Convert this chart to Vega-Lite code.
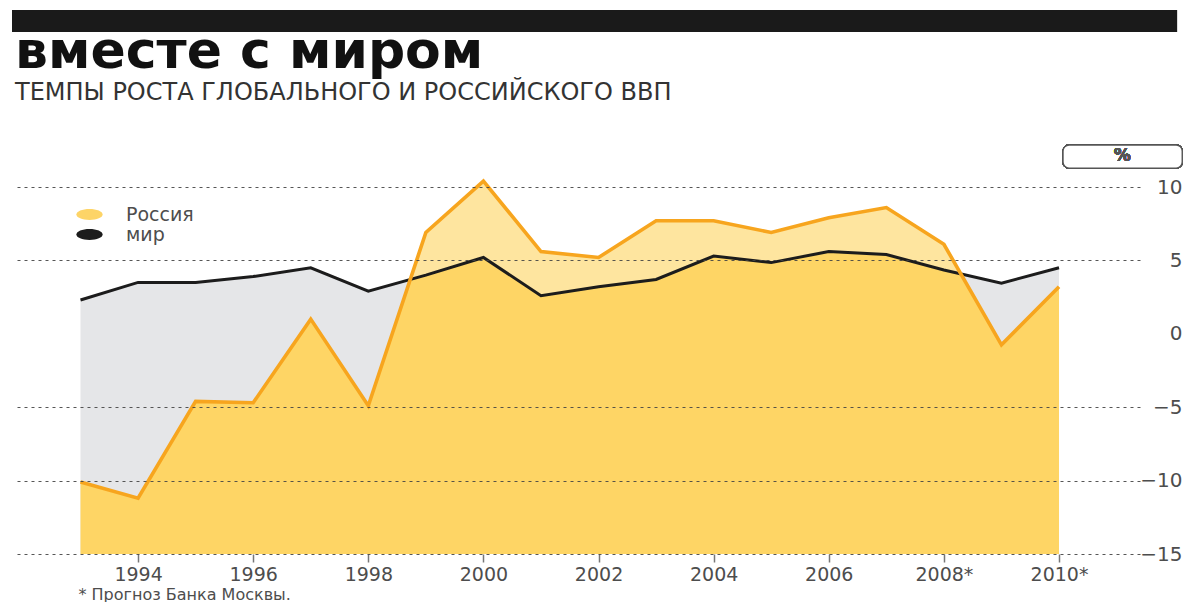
{
  "$schema": "https://vega.github.io/schema/vega-lite/v6.json",
  "width": 1125,
  "height": 367,
  "autosize": {"type": "none"},
  "padding": {"left": 15, "top": 187, "right": 47, "bottom": 48},
  "background": "#ffffff",
  "config": {
    "view": {"stroke": null},
    "font": "DejaVu Sans"
  },
  "title": {
    "text": "вместе с миром",
    "subtitle": "ТЕМПЫ РОСТА ГЛОБАЛЬНОГО И РОССИЙСКОГО ВВП",
    "anchor": "start",
    "frame": "group",
    "font": "DejaVu Sans",
    "fontSize": 52,
    "fontWeight": "bold",
    "color": "#111111",
    "subtitleFont": "DejaVu Sans",
    "subtitleFontSize": 24,
    "subtitleColor": "#333333",
    "subtitlePadding": 2,
    "offset": -96
  },
  "data": {
    "values": [
      {"year": 1993, "Россия": -10.1, "мир": 2.3},
      {"year": 1994, "Россия": -11.2, "мир": 3.5},
      {"year": 1995, "Россия": -4.6, "мир": 3.5},
      {"year": 1996, "Россия": -4.7, "мир": 3.9},
      {"year": 1997, "Россия": 1.0, "мир": 4.5},
      {"year": 1998, "Россия": -4.9, "мир": 2.9},
      {"year": 1999, "Россия": 6.9, "мир": 4.0},
      {"year": 2000, "Россия": 10.4, "мир": 5.2},
      {"year": 2001, "Россия": 5.6, "мир": 2.6},
      {"year": 2002, "Россия": 5.2, "мир": 3.2},
      {"year": 2003, "Россия": 7.7, "мир": 3.7},
      {"year": 2004, "Россия": 7.7, "мир": 5.3},
      {"year": 2005, "Россия": 6.9, "мир": 4.85},
      {"year": 2006, "Россия": 7.9, "мир": 5.6},
      {"year": 2007, "Россия": 8.6, "мир": 5.4},
      {"year": 2008, "Россия": 6.1, "мир": 4.35},
      {"year": 2009, "Россия": -0.75, "мир": 3.45},
      {"year": 2010, "Россия": 3.2, "мир": 4.5}
    ]
  },
  "encoding": {
    "x": {
      "field": "year",
      "type": "quantitative",
      "scale": {"domain": [1991.862, 2011.407], "nice": false, "zero": false},
      "axis": {
        "orient": "bottom",
        "values": [1994, 1996, 1998, 2000, 2002, 2004, 2006, 2008, 2010],
        "labelExpr": "datum.value >= 2008 ? datum.value + '*' : '' + datum.value",
        "grid": false,
        "domain": false,
        "ticks": true,
        "tickSize": 8,
        "tickWidth": 1.5,
        "tickColor": "#777777",
        "labelFont": "DejaVu Sans",
        "labelFontSize": 19,
        "labelColor": "#4d4d4d",
        "labelPadding": 3,
        "labelBaseline": "top",
        "title": "* Прогноз Банка Москвы.",
        "titleFont": "DejaVu Sans",
        "titleFontSize": 16,
        "titleFontWeight": "normal",
        "titleColor": "#4d4d4d",
        "titleAnchor": "start",
        "titleAlign": "left",
        "titleBaseline": "alphabetic",
        "titleX": 63,
        "titleY": 45
      }
    }
  },
  "layer": [
    {
      "mark": {"type": "area", "color": "#e5e6e8", "interpolate": "linear"},
      "encoding": {
        "y": {
          "field": "мир",
          "type": "quantitative",
          "scale": {"domain": [-15, 10], "nice": false, "zero": false},
          "axis": {
            "orient": "right",
            "values": [-15, -10, -5, 0, 5, 10],
            "title": null,
            "domain": false,
            "ticks": false,
            "grid": true,
            "gridColor": "#444444",
            "gridDash": [3, 4],
            "gridWidth": 1.2,
            "gridOpacity": {"condition": {"test": "datum.value === 0", "value": 0}, "value": 0.9},
            "labelFont": "DejaVu Sans",
            "labelFontSize": 20,
            "labelColor": "#4d4d4d",
            "labelAlign": "right",
            "labelBaseline": "middle",
            "labelPadding": 42,
            "zindex": 1
          }
        },
        "y2": {"datum": -15}
      }
    },
    {
      "mark": {"type": "area", "color": "#fed565", "interpolate": "linear"},
      "encoding": {
        "y": {"field": "Россия", "type": "quantitative"},
        "y2": {"datum": -15}
      }
    },
    {
      "mark": {"type": "area", "color": "#ffffff", "opacity": 0.38, "interpolate": "linear"},
      "encoding": {
        "y": {"field": "мир", "type": "quantitative"},
        "y2": {"datum": 10.8}
      }
    },
    {
      "mark": {"type": "rule", "color": "#666666", "strokeWidth": 1.6},
      "encoding": {"y": {"datum": 0}}
    },
    {
      "transform": [{"fold": ["мир", "Россия"], "as": ["series", "value"]}],
      "mark": {"type": "line", "strokeJoin": "miter", "interpolate": "linear"},
      "encoding": {
        "y": {"field": "value", "type": "quantitative"},
        "stroke": {
          "field": "series",
          "type": "nominal",
          "scale": {"domain": ["мир", "Россия"], "range": ["#1c1c1c", "#f7a51e"]},
          "legend": null
        },
        "strokeWidth": {
          "field": "series",
          "type": "nominal",
          "scale": {"domain": ["мир", "Россия"], "range": [3, 3.6]},
          "legend": null
        },
        "order": {"field": "series", "sort": "descending"}
      }
    },
    {
      "transform": [
        {"fold": ["Россия", "мир"], "as": ["series", "value"]},
        {"filter": "false"}
      ],
      "mark": {"type": "point", "filled": true, "opacity": 1, "strokeWidth": 0},
      "encoding": {
        "y": {"field": "value", "type": "quantitative"},
        "fill": {
          "field": "series",
          "type": "nominal",
          "scale": {"domain": ["Россия", "мир"], "range": ["#fdd467", "#1c1c1c"]},
          "legend": {
            "orient": "none",
            "legendX": 65,
            "legendY": 18,
            "title": null,
            "symbolType": "M-2.4,0A2.4,1,0,1,1,2.4,0A2.4,1,0,1,1,-2.4,0Z",
            "symbolSize": 120,
            "symbolStrokeWidth": 0,
            "symbolOpacity": 1,
            "labelFont": "DejaVu Sans",
            "labelFontSize": 19,
            "labelColor": "#4d4d4d",
            "labelOffset": 27,
            "rowPadding": -2,
            "padding": 0
          }
        }
      }
    },
    {
      "mark": {"type": "rect", "color": "#1a1a1a"},
      "encoding": {
        "x": {"datum": 1991.81},
        "x2": {"datum": 2012.05},
        "y": {"datum": 22.06},
        "y2": {"datum": 20.56}
      }
    },
    {
      "mark": {"type": "rect", "fill": "#ffffff", "stroke": "#555555", "strokeWidth": 1.3, "cornerRadius": 6},
      "encoding": {
        "x": {"datum": 2010.07},
        "x2": {"datum": 2012.14},
        "y": {"datum": 12.86},
        "y2": {"datum": 11.29}
      }
    },
    {
      "mark": {"type": "text", "text": "%", "font": "DejaVu Sans", "fontSize": 17, "fontWeight": "bold", "color": "#555555", "align": "center", "baseline": "middle"},
      "encoding": {
        "x": {"datum": 2011.1},
        "y": {"datum": 12.08}
      }
    }
  ]
}
